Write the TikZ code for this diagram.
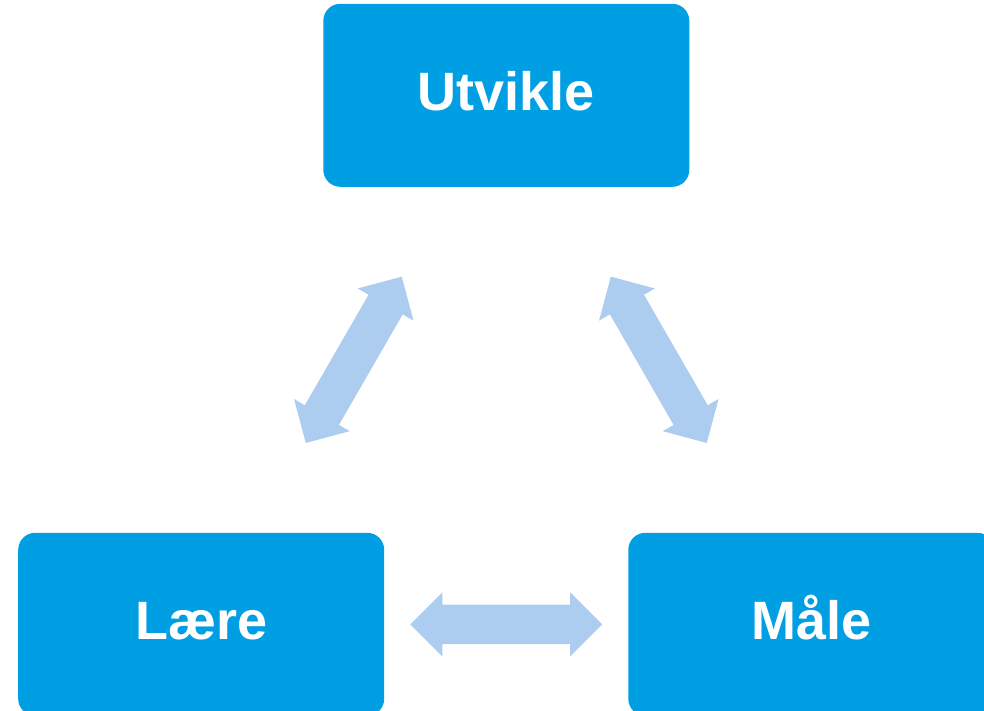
\documentclass[tikz,border=0pt]{standalone}
\usepackage{fontspec}
\setmainfont{Liberation Sans}
\usetikzlibrary{shapes.arrows}
\definecolor{boxblue}{HTML}{009FE3}
\definecolor{arrowblue}{HTML}{ADCDF0}
\begin{document}
\begin{tikzpicture}[x=1pt, y=-1pt,
		stage/.style={fill=boxblue, rounded corners=17pt, minimum width=366pt, minimum height=183pt, inner sep=0pt, text=white, font=\fontsize{54}{60}\selectfont\bfseries, text height=39pt, text depth=8pt},
		biarrow/.style={double arrow, fill=arrowblue, inner sep=0pt, text height=39pt, text depth=0pt, minimum height=192pt, double arrow head extend=12.5pt, double arrow tip angle=90, sloped}]
		\useasboundingbox (0,0) rectangle (984,710);
		\node[stage] at (506.3,95.3) (utv) {Utvikle};
		\node[stage] at (201.2,624.3) (lar) {Lære};
		\node[stage] at (811.3,624.3) (mal) {Måle};
		\path (utv.center) -- node[biarrow] {} (lar.center);
		\path (utv.center) -- node[biarrow] {} (mal.center);
		\path (lar.center) -- node[biarrow] {} (mal.center);
		\end{tikzpicture}
\end{document}
